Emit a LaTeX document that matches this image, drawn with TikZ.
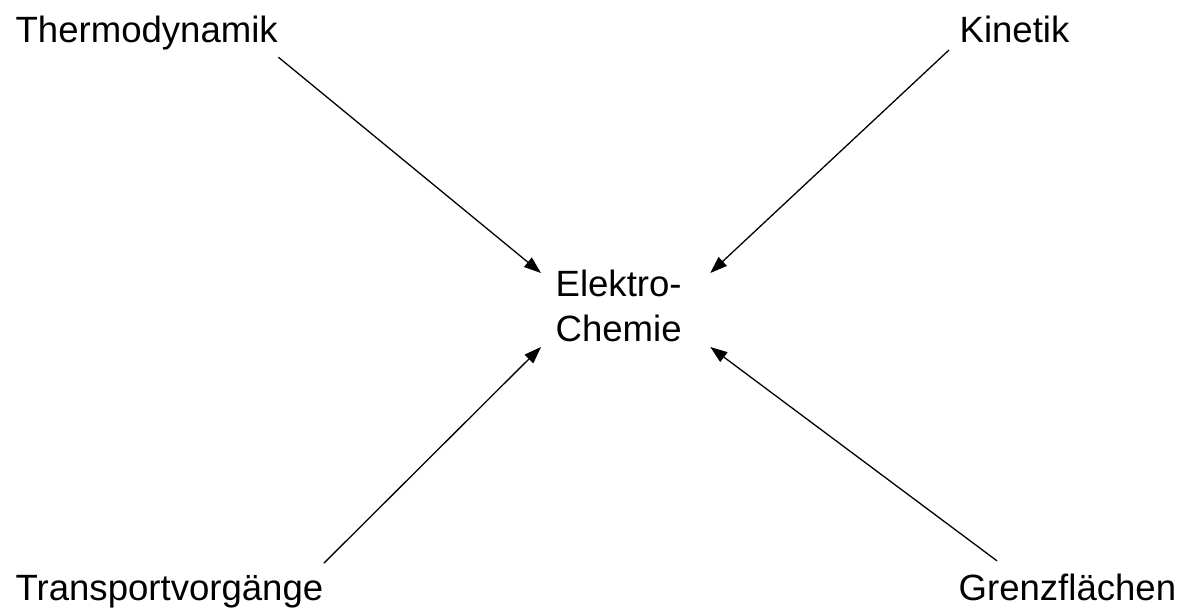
\documentclass[tikz,border=0pt]{standalone}
\usepackage{fontspec}
\setmainfont{Liberation Sans}
\usetikzlibrary{arrows.meta}

\begin{document}
\begin{tikzpicture}[x=1bp,y=-1bp,>={Triangle[length=17bp,width=12bp]},line width=1.3bp,
		lbl/.style={inner sep=0pt,font=\fontsize{36.7}{46}\selectfont}]
			\useasboundingbox (0,0) rectangle (1189,614);
			\node[lbl,anchor=base west] (thermo)    at (15,43)   {Thermodynamik};
			\node[lbl,anchor=base west] (kinetik)   at (959,43)  {Kinetik};
			\node[lbl,anchor=base west] (transport) at (15,600)  {Transportvorgänge};
			\node[lbl,anchor=base west] (grenz)     at (958,600) {Grenzflächen};
			\node[lbl,anchor=north west,align=left] (elektro) at (555,269) {Elektro-\\Chemie};
			\path[->]
				([yshift=-6bp]thermo.south east) edge ([xshift=-14bp,yshift=-4bp]elektro.north west)
				([xshift=-10bp,yshift=-6bp]kinetik.south west) edge ([xshift=28bp,yshift=-4bp]elektro.north east)
				([yshift=11bp]transport.north east) edge ([xshift=-14bp,yshift=-4bp]elektro.south west)
				([xshift=39bp,yshift=12bp]grenz.north west) edge ([xshift=28bp,yshift=-4bp]elektro.south east);
		\end{tikzpicture}
\end{document}
